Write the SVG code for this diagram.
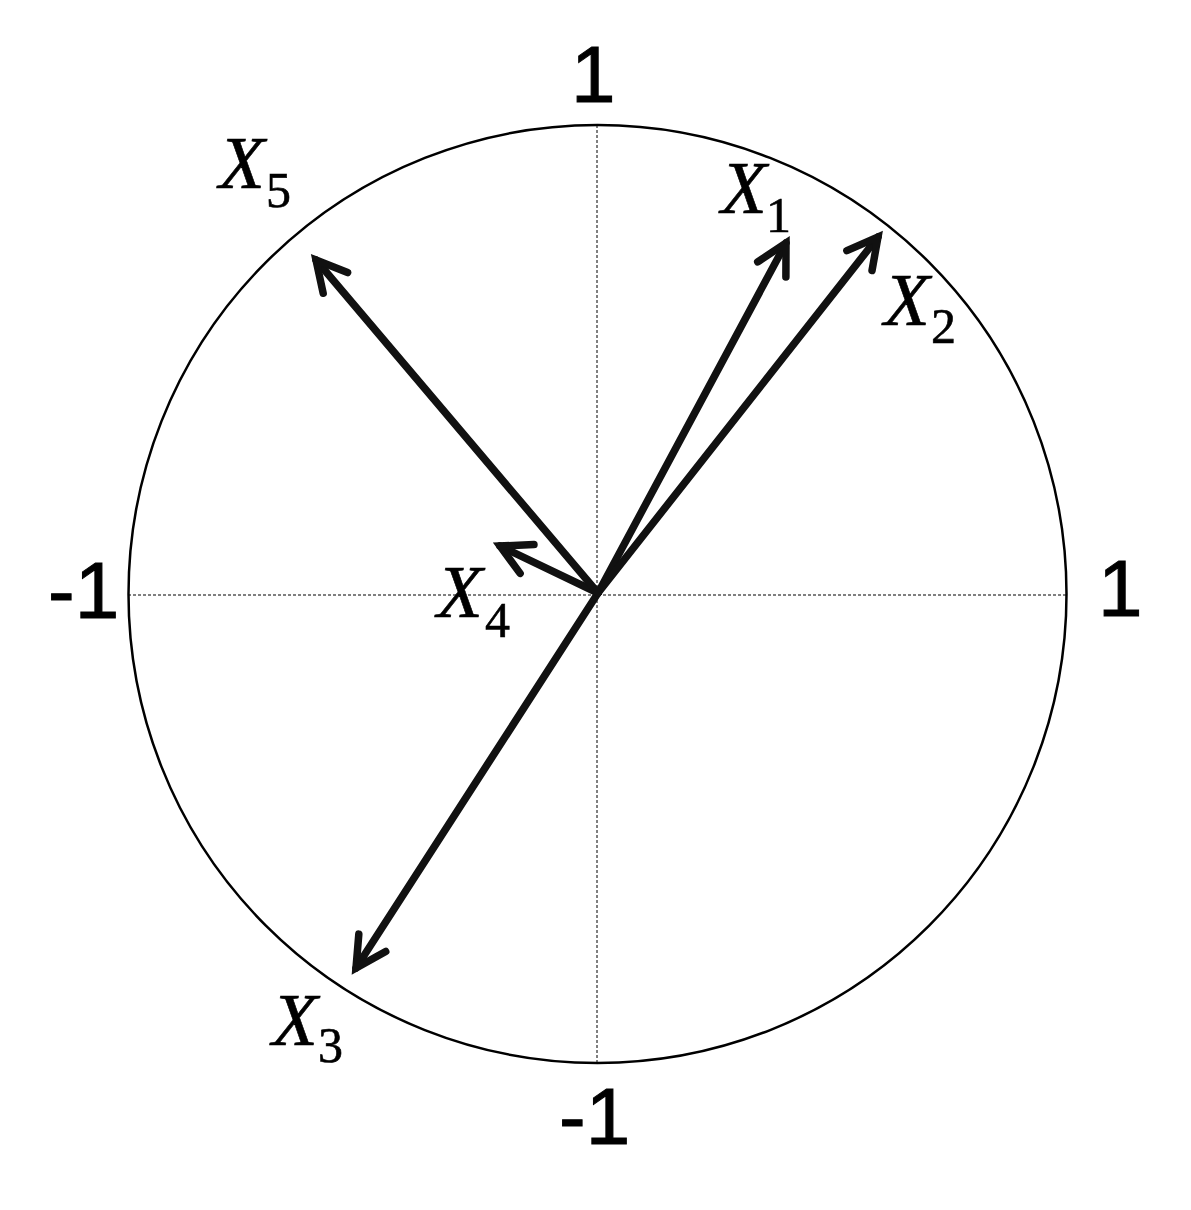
<svg xmlns="http://www.w3.org/2000/svg" width="1191" height="1210" viewBox="0 0 1191 1210">
<style>
.axis{stroke:#000;stroke-width:1;stroke-dasharray:3,2;fill:none}
.circ{stroke:#000;stroke-width:2.5;fill:none}
.vec{stroke:#111;stroke-width:7.5;stroke-linecap:round;fill:none;marker-end:url(#ah)}
.num{font-family:'Liberation Sans',Arial,sans-serif;font-size:80px;fill:#000;stroke:#000;stroke-width:1}
.xl{font-family:'Liberation Serif','Times New Roman',serif;font-style:italic;font-size:75px;fill:#000;stroke:#000;stroke-width:0.6}
.sub{font-style:normal;font-size:50px}
</style>
<defs>
<marker id="ah" markerUnits="userSpaceOnUse" viewBox="-45 -30 60 60" refX="0" refY="0" markerWidth="60" markerHeight="60" orient="auto" overflow="visible">
<path d="M -30,-16 L 0,0 L -30,16" fill="none" stroke="#111" stroke-width="7.5" stroke-linecap="round" stroke-linejoin="miter"/>
</marker>
</defs>
<rect width="1191" height="1210" fill="#fff"/>
<g id="circle">
<circle class="circ" cx="597.5" cy="594" r="469"/>
</g>
<g id="axes">
<line class="axis" x1="128" y1="595" x2="1067" y2="595"/>
<line class="axis" x1="597" y1="125" x2="597" y2="1063"/>
</g>
<g id="axis-labels">
<text class="num" x="571" y="102">1</text>
<text class="num" x="48" y="618">-1</text>
<text class="num" x="1098" y="616">1</text>
<text class="num" x="559" y="1144">-1</text>
</g>
<g id="connectors">
<line class="vec" x1="598" y1="593" x2="786" y2="243"/>
<line class="vec" x1="598" y1="593" x2="878" y2="237"/>
<line class="vec" x1="598" y1="593" x2="356" y2="968"/>
<line class="vec" x1="598" y1="593" x2="500" y2="546"/>
<line class="vec" x1="598" y1="593" x2="316" y2="260"/>
</g>
<g id="X1"><text class="xl" x="721" y="213">X<tspan class="sub" x="766" y="232">1</tspan></text></g>
<g id="X2"><text class="xl" x="884" y="325">X<tspan class="sub" x="931" y="343">2</tspan></text></g>
<g id="X3"><text class="xl" x="272" y="1045">X<tspan class="sub" x="318" y="1062">3</tspan></text></g>
<g id="X4"><text class="xl" x="437" y="617">X<tspan class="sub" x="485" y="637">4</tspan></text></g>
<g id="X5"><text class="xl" x="219" y="188">X<tspan class="sub" x="266" y="207" font-style="italic">5</tspan></text></g>
</svg>
